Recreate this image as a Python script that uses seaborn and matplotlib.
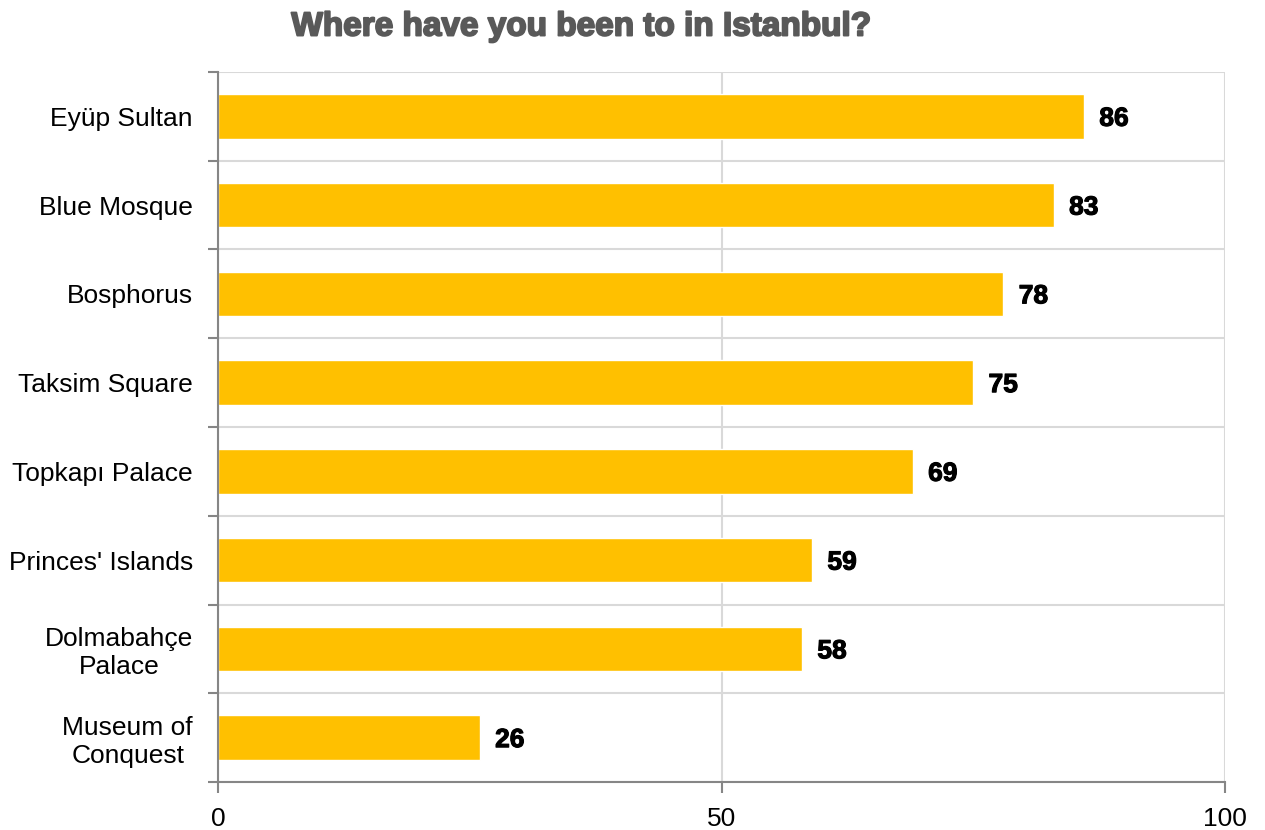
import matplotlib
matplotlib.use("Agg")
import matplotlib.pyplot as plt
import matplotlib.patheffects as pe
import seaborn as sns
import pandas as pd
import numpy as np
from matplotlib.ticker import FixedLocator

places = [
    "Eyüp Sultan",
    "Blue Mosque",
    "Bosphorus",
    "Taksim Square",
    "Topkapı Palace",
    "Princes' Islands",
    "Dolmabahçe\nPalace",
    "Museum of\nConquest",
]
visited = [86, 83, 78, 75, 69, 59, 58, 26]
x_ticks = [0, 50, 100]

sns.set_theme(style="white")
plt.rcParams["font.family"] = ["Liberation Sans", "DejaVu Sans"]

df = pd.DataFrame({"place": places, "visited": visited})

fig = plt.figure(figsize=(12.65, 8.3), dpi=100)
ax = fig.add_axes([218 / 1265, 1 - 782 / 830, (1225 - 218) / 1265, (782 - 72) / 830])

sns.barplot(data=df, x="visited", y="place", orient="h", color="#FFC000",
            width=0.5, saturation=1, ax=ax, zorder=3)

ax.set_xlim(0, 100)
ax.set_ylim(len(places) - 0.5, -0.5)
ax.set_xlabel("")
ax.set_ylabel("")

# value labels
for container in ax.containers:
    texts = ax.bar_label(container, labels=[str(v) for v in visited], padding=11,
                         fontsize=19, fontweight="bold", color="black")
    for t in texts:
        t.set_va("center_baseline")
        t.set_path_effects([pe.withStroke(linewidth=0.8, foreground="black")])

# axis ticks / grid
grid_c = "#D9D9D9"
axis_c = "#868686"
ax.set_xticks(x_ticks)
ax.set_xticklabels([str(t) for t in x_ticks], fontsize=19, color="black")
ax.tick_params(axis="x", direction="out", length=8, width=1.5, color=axis_c, pad=10,
               bottom=True)
ax.xaxis.grid(True, color=grid_c, linewidth=1.5, zorder=0)

ax.set_yticks(range(len(places)))
ax.set_yticklabels(places, fontsize=19, color="black", ha="right", multialignment="center")
ax.tick_params(axis="y", which="major", length=0, pad=18)
ax.yaxis.set_minor_locator(FixedLocator(np.arange(-0.5, len(places), 1.0)))
ax.tick_params(axis="y", which="minor", direction="out", length=7, width=1.5,
               color=axis_c, left=True)
ax.yaxis.grid(True, which="minor", color=grid_c, linewidth=1.5, zorder=0)
ax.yaxis.grid(False, which="major")
ax.set_axisbelow(True)

for side in ["top", "right"]:
    ax.spines[side].set_visible(False)
for side in ["left", "bottom"]:
    ax.spines[side].set_color(axis_c)
    ax.spines[side].set_linewidth(1.5)
    ax.spines[side].set_zorder(4)

title = fig.text(582 / 1265, 1 - 27 / 830, "Where have you been to in Istanbul?",
                 ha="center", va="center", fontsize=24, fontweight="bold",
                 color="#595959")
title.set_path_effects([pe.withStroke(linewidth=1.4, foreground="#595959")])

fig.savefig("out.png", dpi=100)
